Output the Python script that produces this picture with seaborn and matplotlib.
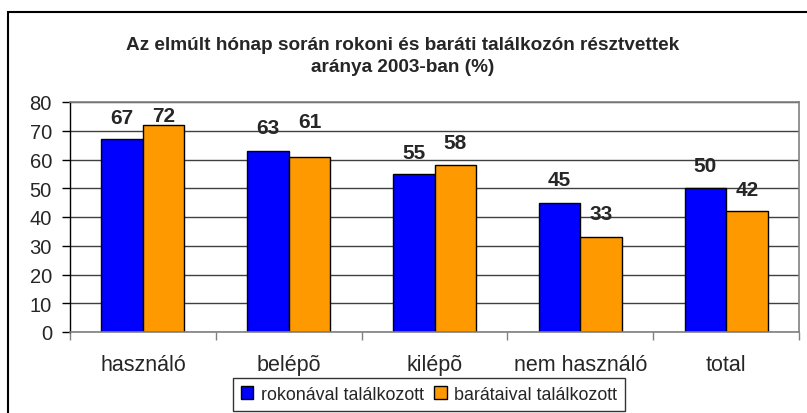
import matplotlib
matplotlib.use("Agg")
import matplotlib.pyplot as plt
import matplotlib.patches as mpatches
import seaborn as sns
import pandas as pd

categories = ["használó", "belépõ", "kilépõ", "nem használó", "total"]
series_names = ["rokonával találkozott", "barátaival találkozott"]
rokon = [67, 63, 55, 45, 50]
barat = [72, 61, 58, 33, 42]
colors = ["#0000FF", "#FF9900"]

# vertical offsets (pixels) of value labels above bar tops, as placed in the original
label_offsets = [[21.5, 23.2, 21.8, 23.0, 23.2],
                 [10.0, 35.5, 22.3, 23.7, 21.9]]

df = pd.DataFrame({
    "cat": categories * 2,
    "series": [series_names[0]] * 5 + [series_names[1]] * 5,
    "val": rokon + barat,
})

sns.set_style("white")
plt.rcParams["font.family"] = ["Liberation Sans", "DejaVu Sans"]

fig = plt.figure(figsize=(8.07, 4.14), dpi=100)
ax = fig.add_axes([70/807, 81/414, (799-70)/807, (333-103)/414])

sns.barplot(data=df, x="cat", y="val", hue="series", palette=colors,
            saturation=1, width=0.57, gap=0, edgecolor="black", linewidth=1,
            ax=ax, legend=False, errorbar=None)

for cont, offs in zip(ax.containers, label_offsets):
    for bar, off in zip(cont, offs):
        h = bar.get_height()
        ax.annotate(f"{h:.0f}", xy=(bar.get_x() + bar.get_width() / 2, h),
                    xytext=(0, off), textcoords="offset pixels",
                    ha="center", va="center", fontsize=15, fontweight="bold",
                    annotation_clip=False)

ax.set_ylim(0, 80)
ax.set_xlim(-0.5, 4.5)
ax.set_yticks(range(0, 81, 10))
ax.set_xlabel("")
ax.set_ylabel("")
ax.yaxis.grid(True, color="#404040", linewidth=1)
ax.set_axisbelow(True)
ax.tick_params(axis="y", labelsize=14.5, length=6, width=1, color="black", pad=7, direction="out", left=True)
ax.tick_params(axis="x", labelsize=15.5, length=0, pad=16)
ax.set_xticks([i - 0.5 for i in range(6)], minor=True)
ax.tick_params(axis="x", which="minor", length=6, width=1, color="#808080", bottom=True)

for s in ["top", "right", "bottom"]:
    ax.spines[s].set_color("#808080")
    ax.spines[s].set_linewidth(1.2)
ax.spines["left"].set_color("black")
ax.spines["left"].set_linewidth(1)

fig.text(403/807, 1 - 45/414, "Az elmúlt hónap során rokoni és baráti találkozón résztvettek",
         ha="center", va="center", fontsize=13.7, fontweight="bold")
fig.text(403/807, 1 - 68/414, "aránya 2003-ban (%)",
         ha="center", va="center", fontsize=13.7, fontweight="bold")

handles = [mpatches.Patch(facecolor=c, edgecolor="black", label=n) for c, n in zip(colors, series_names)]
leg = fig.legend(handles=handles, loc="center", bbox_to_anchor=(429/807, 1 - 395.5/414),
                 ncol=2, fontsize=12.9, frameon=True, fancybox=False,
                 handlelength=0.7, handleheight=0.7, handletextpad=0.4, columnspacing=0.6,
                 borderpad=0.45, borderaxespad=0)
leg.get_frame().set_edgecolor("black")
leg.get_frame().set_linewidth(1)

border = mpatches.Rectangle((8/807, -0.2), 1.2, (1 - 13/414) + 0.2,
                            transform=fig.transFigure, fill=False, edgecolor="black",
                            linewidth=1.5, clip_on=False)
fig.patches.append(border)

fig.savefig("out.png", dpi=100)
